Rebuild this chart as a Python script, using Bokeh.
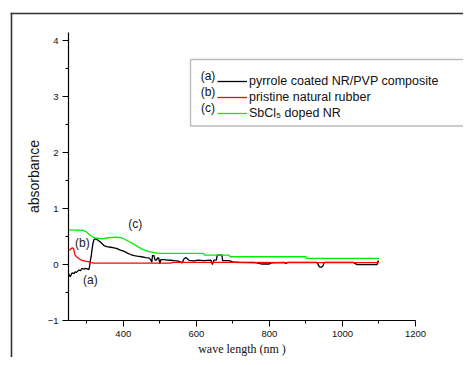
from bokeh.plotting import figure
from bokeh.models import Legend, LegendItem, Label, FixedTicker, BoxAnnotation
from bokeh.embed import file_html
from bokeh.resources import INLINE

# ---- data ----
x_a = [250, 253, 255, 258, 260, 265, 268, 272, 278, 283, 287, 292, 297, 303, 306,
       308, 310, 312, 314, 317, 320, 325, 330, 338, 347, 355, 365, 375, 383, 392,
       401, 410, 420, 430, 438, 450, 461, 470, 475, 478, 480, 484, 487, 491, 494,
       497, 500, 503, 511, 520, 529, 540, 548, 556, 561, 566, 571, 576, 580, 593,
       605, 620, 640, 644, 648, 655, 657, 670, 672, 690, 700, 720, 760, 780, 800,
       805, 840, 845, 850, 930, 937, 942, 947, 950, 1030, 1040, 1095, 1097, 1100]
y_a = [-0.16, -0.20, -0.22, -0.17, -0.15, -0.16, -0.13, -0.14, -0.10, -0.11,
       -0.07, -0.08, -0.07, -0.08, -0.09, -0.02, 0.08, 0.14, 0.25, 0.38,
       0.45, 0.46, 0.44, 0.40, 0.34, 0.32, 0.31, 0.30, 0.285, 0.26,
       0.24, 0.21, 0.18, 0.16, 0.15, 0.14, 0.125, 0.12, 0.09, 0.04,
       0.16, 0.16, 0.08, 0.08, 0.12, 0.12, 0.02, 0.09, 0.09, 0.08,
       0.077, 0.07, 0.065, 0.05, 0.03, 0.10, 0.125, 0.10, 0.077, 0.065,
       0.08, 0.07, 0.08, 0.0, 0.08, 0.08, 0.17, 0.17, 0.07, 0.07,
       0.05, 0.04, 0.04, 0.01, 0.01, 0.03, 0.04, 0.02, 0.04, 0.04,
       -0.04, -0.05, -0.02, 0.04, 0.04, 0.0, 0.0, 0.06, 0.06]

x_b = [250, 255, 260, 264, 266, 268, 272, 278, 283, 287, 295, 306, 312, 319,
       400, 530, 535, 700, 760, 770, 850, 1100]
y_b = [0.255, 0.27, 0.30, 0.29, 0.22, 0.17, 0.14, 0.107, 0.09, 0.077, 0.06,
       0.047, 0.035, 0.025, 0.025, 0.025, 0.04, 0.04, 0.03, 0.04, 0.035, 0.035]

x_c = [250, 290, 300, 310, 320, 340, 360, 380, 395, 410, 430, 450, 470, 490,
       500, 620, 622, 690, 692, 900, 902, 1100]
y_c = [0.62, 0.61, 0.58, 0.52, 0.48, 0.46, 0.48, 0.49, 0.48, 0.43, 0.36, 0.28,
       0.23, 0.21, 0.20, 0.20, 0.17, 0.17, 0.14, 0.14, 0.11, 0.11]

series_tags = ["(a)", "(b)", "(c)"]
series_names = ["pyrrole coated NR/PVP composite", "pristine natural rubber",
                "SbCl\u2085 doped NR"]
series_colors = ["#000000", "#ff0000", "#00ee00"]

x_major = [400, 600, 800, 1000, 1200]
x_minor = [300, 500, 700, 900, 1100]
y_major = [-1, 0, 1, 2, 3, 4]
y_minor = [-0.5, 0.5, 1.5, 2.5, 3.5]
x_axis_span = (250, 1200)
y_axis_span = (-1, 4.15)

# ---- layout (pixels) ----
W, H = 463, 357
AX_LEFT, AX_RIGHT, AX_TOP, AX_BOTTOM = 68, 415, 32, 320
kx = (AX_RIGHT - AX_LEFT) / (x_axis_span[1] - x_axis_span[0])
ky = (AX_BOTTOM - AX_TOP) / (y_axis_span[1] - y_axis_span[0])
x_start = x_axis_span[0] - AX_LEFT / kx
x_end = x_start + W / kx
y_end = y_axis_span[1] + AX_TOP / ky
y_start = y_end - H / ky


def px_x(px):
    return x_start + px / kx


def px_y(py):
    return y_end - py / ky


p = figure(width=W, height=H, x_range=(x_start, x_end), y_range=(y_start, y_end),
           output_backend="svg", toolbar_location=None,
           min_border_left=0, min_border_right=0, min_border_top=0,
           min_border_bottom=0)
p.outline_line_color = None
p.xgrid.visible = False
p.ygrid.visible = False
p.background_fill_color = "white"
p.border_fill_color = "white"

for ax in (p.xaxis[0], p.yaxis[0]):
    ax.axis_line_color = "#000000"
    ax.axis_line_width = 1.2
    ax.major_tick_line_color = "#000000"
    ax.minor_tick_line_color = "#000000"
    ax.major_tick_out = 6
    ax.major_tick_in = 0
    ax.minor_tick_out = 3
    ax.minor_tick_in = 0
    ax.major_label_text_font = "Liberation Sans"
    ax.major_label_text_font_size = "9.5px"
    ax.major_label_text_color = "#111111"
    ax.axis_label_text_font_style = "normal"
    ax.axis_label_text_color = "#111111"

p.xaxis[0].fixed_location = y_axis_span[0]
p.xaxis[0].bounds = x_axis_span
p.yaxis[0].fixed_location = x_axis_span[0]
p.yaxis[0].bounds = y_axis_span
p.xaxis[0].ticker = FixedTicker(ticks=x_major, minor_ticks=x_minor)
p.yaxis[0].ticker = FixedTicker(ticks=y_major, minor_ticks=y_minor)
p.xaxis[0].major_label_standoff = 4
p.yaxis[0].major_label_standoff = 4
p.xaxis[0].axis_label = "wave length (nm )"
p.xaxis[0].axis_label_text_font = "Liberation Serif"
p.xaxis[0].axis_label_text_font_size = "12px"
p.xaxis[0].axis_label_standoff = 2
p.yaxis[0].axis_label = "absorbance"
p.yaxis[0].axis_label_text_font = "Liberation Sans"
p.yaxis[0].axis_label_text_font_size = "14px"
p.yaxis[0].axis_label_standoff = 3

r_a = p.line(x_a, y_a, line_color=series_colors[0], line_width=1.3)
r_b = p.line(x_b, y_b, line_color=series_colors[1], line_width=1.3)
r_c = p.line(x_c, y_c, line_color=series_colors[2], line_width=1.3)

# outer page frame: thin filled strips for its left and top edges
FRAME_COLOR = "#333333"
p.add_layout(BoxAnnotation(left=px_x(10.2), right=px_x(11.8), top=px_y(12.2),
                           bottom=px_y(H + 40), fill_color=FRAME_COLOR,
                           fill_alpha=1, line_alpha=0))
p.add_layout(BoxAnnotation(left=px_x(10.2), right=px_x(W + 40), top=px_y(12.2),
                           bottom=px_y(13.8), fill_color=FRAME_COLOR,
                           fill_alpha=1, line_alpha=0))
# legend border box (runs past the right edge)
p.add_layout(BoxAnnotation(left=px_x(190), right=px_x(W + 40), top=px_y(59),
                           bottom=px_y(125.5), fill_alpha=0,
                           line_color="#222222", line_width=1.4))

legend = Legend(items=[LegendItem(label=series_names[i], renderers=[r])
                       for i, r in enumerate([r_a, r_b, r_c])],
                location=(217, H - 120.7), padding=5, margin=0, spacing=0,
                glyph_width=30, glyph_height=16, label_height=16,
                label_standoff=2, label_text_font="Liberation Sans",
                label_text_font_size="12.5px", label_text_color="#111111",
                border_line_color=None, background_fill_alpha=0)
p.add_layout(legend)

leg_y = [3.37, 3.09, 2.80]
for i in range(3):
    p.add_layout(Label(x=632, y=leg_y[i], text=series_tags[i],
                       text_align="center", text_baseline="middle",
                       text_font="Liberation Sans", text_font_size="12px",
                       text_color="#111111"))

# curve annotations
ann_x = [310, 288, 433]
ann_y = [-0.28, 0.38, 0.72]
for i in range(3):
    p.add_layout(Label(x=ann_x[i], y=ann_y[i], text=series_tags[i],
                       text_align="center", text_baseline="middle",
                       text_font="Liberation Sans", text_font_size="12px",
                       text_color="#222222"))

open("out.html", "w").write(file_html(p, INLINE))
